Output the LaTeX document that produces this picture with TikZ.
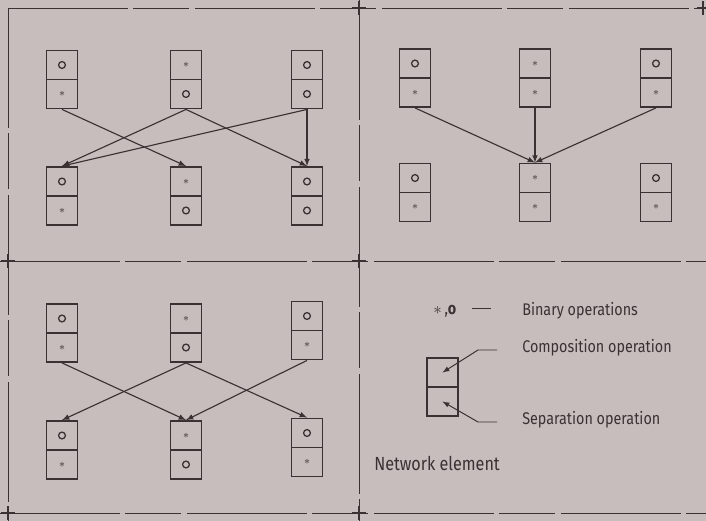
\documentclass[tikz,border=0pt]{standalone}
\usepackage{amsmath}
\usepackage{fontspec}
\setmainfont[FakeStretch=0.85]{Fira Sans}
\usepackage{tikz}

\definecolor{paper}{RGB}{198,189,188}
\definecolor{ink}{RGB}{58,50,50}

\begin{document}
\begin{tikzpicture}[x=0.025cm,y=-0.025cm,>=latex,ink]
        \tikzstyle{cell}=[draw,line width=1.3pt,minimum width=0.775cm,minimum height=0.725cm,inner sep=0pt,font=\footnotesize]
        \tikzstyle{oc}=[cell,path picture={\draw[line width=0.9pt] (path picture bounding box.center) circle (0.085cm);}]
        \tikzstyle{sc}=[cell]
        \tikzstyle{frame}=[line width=0.7pt,dash pattern=on 85pt off 4pt on 40pt off 4pt]
        \tikzstyle{link}=[->,line width=0.8pt]
        \tikzstyle{lbl}=[anchor=west,inner sep=0pt,font=\fontsize{12}{14}\selectfont]

        \fill[paper] (0,0) rectangle (706,521);
        \useasboundingbox (0,0) rectangle (706,521);

        % frame of the four fields
        \draw[frame] (8,8) -- (706,8);
        \draw[frame] (0,261) -- (706,261);
        \draw[frame] (0,513) -- (706,513);
        \draw[frame] (8,8) -- (8,521);
        \draw[frame] (359,0) -- (359,521);
        \draw[line width=1pt] (352,8) -- (366,8) (359,1) -- (359,15)
                (1,261) -- (15,261) (8,254) -- (8,268)
                (352,261) -- (366,261) (359,254) -- (359,268)
                (1,513) -- (15,513) (8,506) -- (8,520)
                (352,513) -- (366,513) (359,506) -- (359,520)
                (697,8) -- (706,8) (703,1) -- (703,15);

        % upper left
        \node[oc](A11t) at (62,65){};
        \node[sc](A11b) at (62,94){$*$};
        \node[sc](A12t) at (186,65){$*$};
        \node[oc](A12b) at (186,94){};
        \node[oc](A13t) at (307,65){};
        \node[oc](A13b) at (307,94){};

        \node[oc](A21t) at (62,181.5){};
        \node[sc](A21b) at (62,210.5){$*$};
        \node[sc](A22t) at (186,181.5){$*$};
        \node[oc](A22b) at (186,210.5){};
        \node[oc](A23t) at (307,181.5){};
        \node[oc](A23b) at (307,210.5){};

        \draw[link] (A11b.south) -- (A22t.north);
        \draw[link] (A12b.south) -- (A21t.north);
        \draw[link] (A12b.south) -- (A23t.north);
        \draw[link] (A13b.south) -- (A21t.north);
        \draw[link] (A13b.south) -- (A23t.north);

        % upper right
        \node[oc](B11t) at (415,63.5){};
        \node[sc](B11b) at (415,92.5){$*$};
        \node[sc](B12t) at (535,63.5){$*$};
        \node[sc](B12b) at (535,92.5){$*$};
        \node[oc](B13t) at (656,63.5){};
        \node[sc](B13b) at (656,92.5){$*$};

        \node[oc](B21t) at (415,178){};
        \node[sc](B21b) at (415,207){$*$};
        \node[sc](B22t) at (535,178){$*$};
        \node[sc](B22b) at (535,207){$*$};
        \node[oc](B23t) at (656,178){};
        \node[sc](B23b) at (656,207){$*$};

        \draw[link] (B11b.south) -- (B22t.north);
        \draw[link] (B12b.south) -- (B22t.north);
        \draw[link] (B13b.south) -- (B22t.north);

        % lower left
        \node[oc](C11t) at (62,318.5){};
        \node[sc](C11b) at (62,347.5){$*$};
        \node[sc](C12t) at (186,318.5){$*$};
        \node[oc](C12b) at (186,347.5){};
        \node[oc](C13t) at (307,316){};
        \node[sc](C13b) at (307,345){$*$};

        \node[oc](C21t) at (62,435.5){};
        \node[sc](C21b) at (62,464.5){$*$};
        \node[sc](C22t) at (186,435.5){$*$};
        \node[oc](C22b) at (186,464.5){};
        \node[oc](C23t) at (307,433){};
        \node[sc](C23b) at (307,462){$*$};

        \draw[link] (C11b.south) -- (C22t.north);
        \draw[link] (C12b.south) -- (C21t.north);
        \draw[link] (C12b.south) -- (C23t.north);
        \draw[link] (C13b.south) -- (C22t.north);

        % legend
        \node[lbl](ops) at (433,311){$*$\,,\textbf{o}\hspace{0.4cm}\rule[0.6ex]{0.47cm}{0.6pt}};
        \node[lbl](bin) at (522,311){Binary operations};
        \node[cell](Dt) at (442.5,372.5){};
        \node[cell](Db) at (442.5,401.5){};
        \node[lbl](comp) at (522,348){Composition operation};
        \node[lbl](sep) at (522,420){Separation operation};
        \node[lbl,font=\fontsize{13.5}{16}\selectfont](net) at (374,463){Network element};

        \coordinate (ce) at (497,350);
        \coordinate (ck) at (478,350);
        \coordinate (se) at (497,422);
        \coordinate (sk) at (478,422);
        \draw[->,line width=0.7pt] (ce) -- (ck) -- (Dt.center);
        \draw[->,line width=0.7pt] (se) -- (sk) -- (Db.center);

    \end{tikzpicture}
\end{document}
